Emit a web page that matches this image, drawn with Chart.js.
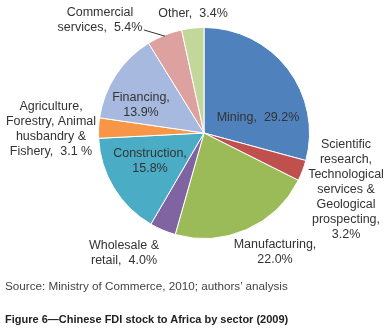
<!DOCTYPE html>
<html>
<head>
<meta charset="utf-8">
<script src="https://cdn.jsdelivr.net/npm/chart.js@4"></script>
<style>
    body { margin: 0; background: #fff; }
    #wrap { position: relative; width: 389px; height: 330px; }
    #source { position: absolute; left: 5px; top: 279px; font: 11.7px Arial, 'Liberation Sans', sans-serif; color: #444; }
    #title { position: absolute; left: 5px; top: 313px; font: bold 11px 'Liberation Sans Narrow', Arial, sans-serif; color: #222; }
</style>
</head>
<body>
<div id="wrap">
    <canvas id="pie" width="389" height="330"></canvas>
    <div id="source">Source: Ministry of Commerce, 2010; authors’ analysis</div>
    <div id="title">Figure 6—Chinese FDI stock to Africa by sector (2009)</div>
</div>
<script>
// sectors, clockwise from 12 o'clock
const sectors = ['Mining', 'Scientific\nresearch,\nTechnological\nservices &\nGeological\nprospecting', 'Manufacturing',
    'Wholesale &\nretail', 'Construction', 'Agriculture,\nForestry, Animal\nhusbandry &\nFishery', 'Financing',
    'Commercial\nservices', 'Other'];
const shares = [29.2, 3.2, 22.0, 4.0, 15.8, 3.1, 13.9, 5.4, 3.4];
const shareText = ['29.2%', '3.2%', '22.0%', '4.0%', '15.8%', '3.1 %', '13.9%', '5.4%', '3.4%'];

// styling
const colors = ['#4F81BD', '#C0504D', '#9BBB59', '#8064A2', '#4BACC6', '#F79646', '#A7B9DE', '#DDA2A0', '#C4D79B'];
const valueOnNewLine = [false, true, true, false, true, false, true, false, false];
// label block centre, relative to pie centre
const labelOffset = [[54, -15], [142, 57], [71, 119], [-80, 120], [-54, 28], [-153, -4], [-63, -28], [-104, -113], [-11, -119]];

const labelPlugin = {
    id: 'sectorLabels',
    afterDraw(chart) {
        const ctx = chart.ctx;
        const arc = chart.getDatasetMeta(0).data[0];
        const cx = arc.x, cy = arc.y;
        ctx.save();
        ctx.font = '12.5px Arial, "Liberation Sans", sans-serif';
        ctx.fillStyle = '#333';
        ctx.textAlign = 'center';
        ctx.textBaseline = 'middle';
        const lh = 15;
        sectors.forEach((name, i) => {
            let lines = name.split('\n');
            if (valueOnNewLine[i]) {
                lines[lines.length - 1] += ',';
                lines.push(shareText[i]);
            } else {
                lines[lines.length - 1] += ',  ' + shareText[i];
            }
            const x = cx + labelOffset[i][0];
            const y0 = cy + labelOffset[i][1] - (lines.length - 1) * lh / 2;
            lines.forEach((ln, k) => ctx.fillText(ln, x, y0 + k * lh));
        });
        // leader line for commercial services
        const el = chart.getDatasetMeta(0).data[7];
        const mid = (el.startAngle + el.endAngle) / 2;
        ctx.strokeStyle = '#333';
        ctx.lineWidth = 1;
        ctx.beginPath();
        ctx.moveTo(cx - 60, cy - 103);
        ctx.lineTo(cx + Math.cos(mid) * el.outerRadius * 0.99, cy + Math.sin(mid) * el.outerRadius * 0.99);
        ctx.stroke();
        ctx.restore();
    }
};

new Chart(document.getElementById('pie'), {
    type: 'pie',
    data: {
        labels: sectors,
        datasets: [{
            data: shares,
            backgroundColor: colors,
            borderColor: '#fff',
            borderWidth: 1
        }]
    },
    options: {
        responsive: false,
        animation: false,
        layout: { padding: { left: 98, right: 79, top: 27, bottom: 91 } },
        plugins: {
            legend: { display: false },
            tooltip: { enabled: false }
        }
    },
    plugins: [labelPlugin]
});
</script>
</body>
</html>
